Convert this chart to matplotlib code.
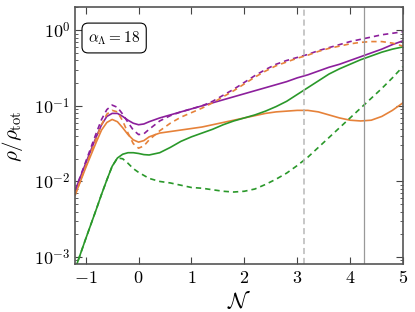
import numpy as np
from matplotlib import pyplot as plt
from matplotlib.ticker import FuncFormatter, LogLocator

plt.rcParams["mathtext.fontset"] = "cm"
plt.rcParams["font.family"] = "serif"
plt.rcParams["font.serif"] = ["DejaVu Serif"]

# e-folds grid (shared by all curves)
N = [-1.2, -1.0, -0.8, -0.7, -0.6, -0.5, -0.4, -0.3, -0.2, -0.1, 0.0, 0.1, 0.2,
     0.4, 0.6, 0.8, 1.0, 1.2, 1.4, 1.6, 1.8, 2.0, 2.2, 2.4, 2.6, 2.8, 3.0,
     3.2, 3.4, 3.6, 3.8, 4.0, 4.2, 4.4, 4.6, 4.8, 5.0]

# log10(rho/rho_tot)
purple_solid = [-2.12, -1.76, -1.41, -1.25, -1.14, -1.10, -1.10, -1.14, -1.19, -1.23, -1.25, -1.24, -1.21,
                -1.16, -1.12, -1.08, -1.04, -1.00, -0.96, -0.92, -0.88, -0.84, -0.80, -0.76, -0.72, -0.68, -0.63,
                -0.59, -0.54, -0.49, -0.45, -0.40, -0.35, -0.30, -0.25, -0.19, -0.14]
purple_dash = [-2.12, -1.74, -1.36, -1.18, -1.05, -0.99, -1.02, -1.11, -1.22, -1.32, -1.38, -1.37, -1.31,
               -1.20, -1.13, -1.08, -1.04, -1.00, -0.94, -0.86, -0.78, -0.69, -0.60, -0.52, -0.45, -0.40, -0.36,
               -0.32, -0.27, -0.23, -0.19, -0.15, -0.12, -0.09, -0.06, -0.04, -0.02]
orange_solid = [-2.18, -1.82, -1.48, -1.32, -1.22, -1.18, -1.21, -1.29, -1.38, -1.45, -1.48, -1.46, -1.41,
                -1.36, -1.34, -1.32, -1.30, -1.28, -1.25, -1.22, -1.19, -1.16, -1.13, -1.10, -1.08, -1.07, -1.06,
                -1.06, -1.08, -1.12, -1.16, -1.19, -1.20, -1.19, -1.14, -1.06, -0.96]
orange_dash = [-2.18, -1.80, -1.43, -1.25, -1.11, -1.06, -1.08, -1.20, -1.36, -1.50, -1.56, -1.53, -1.45,
               -1.33, -1.23, -1.15, -1.09, -1.03, -0.96, -0.88, -0.80, -0.71, -0.62, -0.54, -0.47, -0.42, -0.37,
               -0.33, -0.28, -0.24, -0.21, -0.18, -0.16, -0.15, -0.15, -0.17, -0.21]
green_solid = [-3.16, -2.76, -2.37, -2.17, -1.98, -1.80, -1.69, -1.64, -1.62, -1.62, -1.63, -1.645, -1.65,
               -1.62, -1.55, -1.47, -1.41, -1.36, -1.31, -1.25, -1.20, -1.16, -1.12, -1.07, -1.01, -0.94, -0.85,
               -0.76, -0.67, -0.58, -0.51, -0.45, -0.39, -0.34, -0.29, -0.25, -0.22]
green_dash = [-3.16, -2.76, -2.37, -2.17, -1.98, -1.80, -1.69, -1.70, -1.76, -1.83, -1.88, -1.92, -1.96,
              -2.00, -2.02, -2.05, -2.08, -2.09, -2.11, -2.13, -2.14, -2.13, -2.10, -2.04, -1.97, -1.89, -1.79,
              -1.68, -1.55, -1.42, -1.29, -1.16, -1.03, -0.90, -0.77, -0.63, -0.48]

N_dash_line = 3.12
N_solid_line = 4.27
label = r"$\alpha_\Lambda = 18$"

purple = "#8c1f9c"
orange = "#e6823a"
green = "#2a982a"

fig = plt.figure(figsize=(4.15, 3.12), dpi=100)
ax = fig.add_axes([0.181, 0.154, 0.79, 0.822])

def p(v):
    return 10 ** np.array(v)

lw = 1.2
dash = (3.2, 2.4)
ax.plot(N, p(purple_solid), color=purple, lw=lw)
ax.plot(N, p(orange_solid), color=orange, lw=lw)
ax.plot(N, p(green_solid), color=green, lw=lw)
ax.plot(N, p(purple_dash), color=purple, lw=lw, dashes=dash)
ax.plot(N, p(orange_dash), color=orange, lw=lw, dashes=dash)
ax.plot(N, p(green_dash), color=green, lw=lw, dashes=dash)

ax.axvline(N_dash_line, color="#b8b8b8", lw=1.1, dashes=(4, 2.5))
ax.axvline(N_solid_line, color="#999999", lw=0.9)

ax.set_yscale("log")
ax.set_xlim(-1.2, 5)
ax.set_ylim(8.1e-4, 2.0)

ax.set_xticks([-1, 0, 1, 2, 3, 4, 5])
ax.xaxis.set_major_formatter(FuncFormatter(lambda v, pos: r"$%d$" % v))
ax.yaxis.set_major_locator(LogLocator(base=10, numticks=10))
ax.yaxis.set_minor_locator(LogLocator(base=10, subs=np.arange(2, 10), numticks=10))
ax.yaxis.set_major_formatter(FuncFormatter(lambda v, pos: r"$10^{%d}$" % round(np.log10(v))))

ax.tick_params(which="both", direction="in", top=True, right=True, labelsize=13, color="#444444")
ax.tick_params(which="major", length=5, width=0.8)
ax.tick_params(which="minor", length=2.5, width=0.6)
for sp in ax.spines.values():
    sp.set_color("#555555")
    sp.set_linewidth(1.2)

ax.set_xlabel(r"$\mathcal{N}$", fontsize=16, labelpad=2)
ax.set_ylabel(r"$\rho/\rho_{\rm tot}$", fontsize=15, labelpad=6)

ax.text(0.119, 0.881, label, transform=ax.transAxes, fontsize=11, ha="center", va="center",
        bbox=dict(boxstyle="round,pad=0.4", fc="white", ec="black", lw=0.8))

fig.savefig("out.png", dpi=100)
